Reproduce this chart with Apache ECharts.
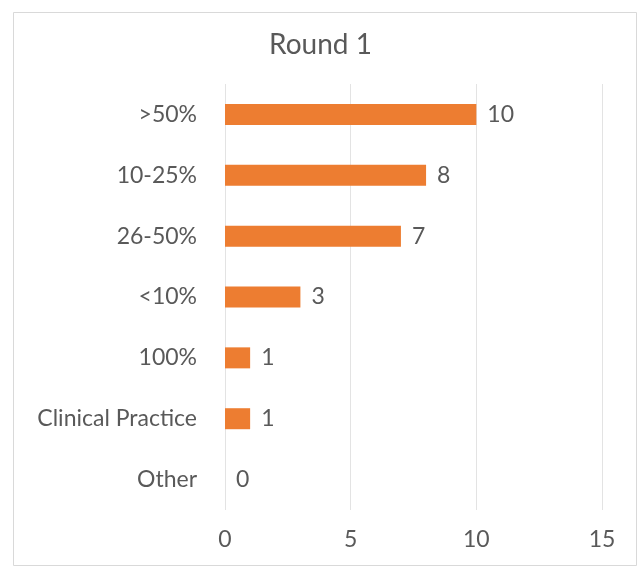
<!DOCTYPE html>
<html>
<head>
<meta charset="utf-8">
<script src="https://cdn.jsdelivr.net/npm/echarts@6/dist/echarts.min.js"></script>
<style>
  html, body { margin: 0; padding: 0; background: #ffffff; }
  #chart { width: 641px; height: 569px; }
</style>
</head>
<body>
<div id="chart"></div>
<script>
// Responses per category, listed top to bottom
const categories = ['>50%', '10-25%', '26-50%', '<10%', '100%', 'Clinical Practice', 'Other'];
const counts = [10, 8, 7, 3, 1, 1, 0];
const xTicks = [0, 5, 10, 15];

const chart = echarts.init(document.getElementById('chart'));
const textColor = '#595959';
const font = 'Lato, "Open Sans", sans-serif';

chart.setOption({
  backgroundColor: '#ffffff',
  animation: false,
  title: {
    text: 'Round 1',
    left: 'center',
    top: 26,
    textStyle: { fontFamily: font, fontSize: 28, fontWeight: 'normal', color: textColor }
  },
  graphic: [{
    type: 'rect',
    shape: { x: 13.5, y: 12.5, width: 623, height: 553 },
    style: { fill: 'none', stroke: '#d9d9d9', lineWidth: 1 },
    silent: true
  }],
  grid: { left: 225, right: 39, top: 84, bottom: 59 },
  xAxis: {
    type: 'value',
    min: xTicks[0],
    max: xTicks[xTicks.length - 1],
    interval: xTicks[1] - xTicks[0],
    axisLine: { show: false },
    axisTick: { show: false },
    axisLabel: { color: textColor, fontFamily: font, fontSize: 23, margin: 18 },
    splitLine: { show: true, lineStyle: { color: '#e3e3e3', width: 1 } }
  },
  yAxis: {
    type: 'category',
    inverse: true,
    data: categories,
    axisLine: { show: false },
    axisTick: { show: false },
    axisLabel: { color: textColor, fontFamily: font, fontSize: 23, margin: 28 },
    splitLine: { show: false }
  },
  series: [{
    type: 'bar',
    data: counts,
    barWidth: 21,
    itemStyle: { color: '#ED7D31' },
    label: {
      show: true,
      position: 'right',
      distance: 11,
      color: textColor,
      fontFamily: font,
      fontSize: 23
    }
  }]
});
</script>
</body>
</html>
